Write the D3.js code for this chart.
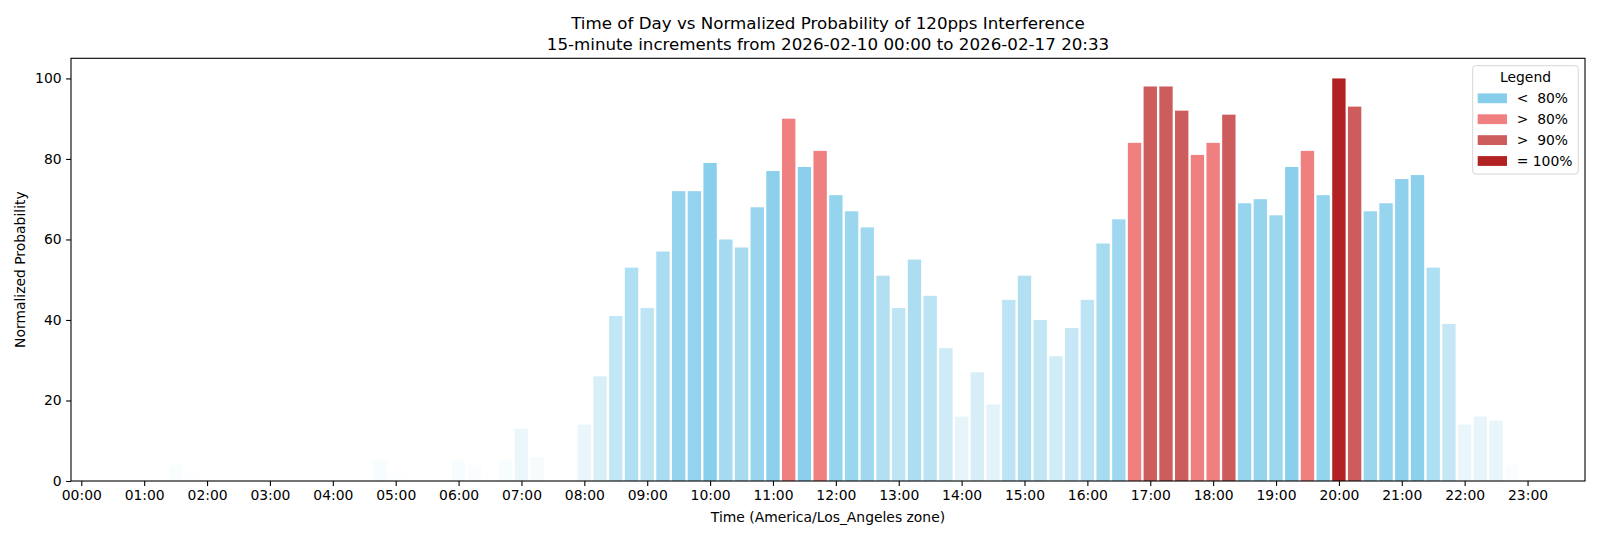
<!DOCTYPE html>
<html>
<head>
<meta charset="utf-8">
<script src="https://cdn.jsdelivr.net/npm/d3@7"></script>
<style>
  body { margin: 0; background: #fff; }
  svg text { font-family: "DejaVu Sans", sans-serif; fill: #000; }
</style>
</head>
<body>
<svg id="chart" width="1600" height="540"></svg>
<script>
// data: one value per 15-minute slot, 00:00 .. 23:45
const probability = [
  0, 0, 1, 1, 0, 0, 4, 2,
  0, 0, 0, 1, 0, 0, 1, 0,
  0, 1, 1, 5, 2, 1, 0, 0,
  5, 4, 1, 5, 13, 6, 0, 0,
  14, 26, 41, 53, 43, 57, 72, 72,
  79, 60, 58, 68, 77, 90, 78, 82,
  71, 67, 63, 51, 43, 55, 46, 33,
  16, 27, 19, 45, 51, 40, 31, 38,
  45, 59, 65, 84, 98, 98, 92, 81,
  84, 91, 69, 70, 66, 78, 82, 71,
  100, 93, 67, 69, 75, 76, 53, 39,
  14, 16, 15, 4, 0, 0, 0, 0
];
const hourLabels = [
  "00:00", "01:00", "02:00", "03:00", "04:00", "05:00", "06:00", "07:00",
  "08:00", "09:00", "10:00", "11:00", "12:00", "13:00", "14:00", "15:00",
  "16:00", "17:00", "18:00", "19:00", "20:00", "21:00", "22:00", "23:00"
];
const yTicks = [0, 20, 40, 60, 80, 100];
const legendLabels = ["<  80%", ">  80%", ">  90%", "= 100%"];
const legendColors = ["skyblue", "lightcoral", "indianred", "firebrick"];

const svg = d3.select("#chart");
const plotL = 71, plotR = 1585, plotT = 58.3, plotB = 481;

const x = d3.scaleLinear().domain([-0.655, 95.655]).range([plotL, plotR]);
const y = d3.scaleLinear().domain([0, 105]).range([plotB, plotT]);
const barW = 0.85;

function barColor(v) {
  if (v >= 100) return legendColors[3];
  if (v > 90) return legendColors[2];
  if (v > 80) return legendColors[1];
  return legendColors[0];
}
function barAlpha(v) {
  return v > 80 ? 1 : Math.min(1, v / 80);
}

// bars
svg.append("g").selectAll("rect")
  .data(probability)
  .join("rect")
  .attr("x", (d, i) => x(i - barW / 2))
  .attr("width", x(barW) - x(0))
  .attr("y", d => y(d))
  .attr("height", d => y(0) - y(d))
  .attr("fill", d => barColor(d))
  .attr("fill-opacity", d => barAlpha(d));

// axes
const xAxis = d3.axisBottom(x)
  .tickValues(hourLabels.map((h, i) => i * 4))
  .tickFormat((d, i) => hourLabels[i])
  .tickSize(4.9).tickPadding(4.5);
const gx = svg.append("g").attr("transform", `translate(0,${plotB})`).call(xAxis);
gx.select(".domain").remove();
gx.selectAll("line").attr("stroke", "#000").attr("stroke-width", 1.1);
gx.selectAll("text").attr("font-size", "13.9px").attr("fill", "#000");

const yAxis = d3.axisLeft(y).tickValues(yTicks).tickSize(4.9).tickPadding(4.5);
const gy = svg.append("g").attr("transform", `translate(${plotL},0)`).call(yAxis);
gy.select(".domain").remove();
gy.selectAll("line").attr("stroke", "#000").attr("stroke-width", 1.1);
gy.selectAll("text").attr("font-size", "13.9px").attr("fill", "#000");

// frame
svg.append("rect")
  .attr("x", plotL).attr("y", plotT)
  .attr("width", plotR - plotL).attr("height", plotB - plotT)
  .attr("fill", "none").attr("stroke", "#000").attr("stroke-width", 1.1);

// titles
const cx = (plotL + plotR) / 2;
svg.append("text").attr("x", cx).attr("y", 29).attr("text-anchor", "middle")
  .attr("font-size", "16.7px").text("Time of Day vs Normalized Probability of 120pps Interference");
svg.append("text").attr("x", cx).attr("y", 49.5).attr("text-anchor", "middle")
  .attr("font-size", "16.7px").text("15-minute increments from 2026-02-10 00:00 to 2026-02-17 20:33");

svg.append("text").attr("x", cx).attr("y", 522).attr("text-anchor", "middle")
  .attr("font-size", "13.9px").text("Time (America/Los_Angeles zone)");
svg.append("text")
  .attr("transform", `translate(25,${(plotT + plotB) / 2}) rotate(-90)`)
  .attr("text-anchor", "middle")
  .attr("font-size", "13.9px").text("Normalized Probability");

// legend
const lg = svg.append("g");
lg.append("rect")
  .attr("x", 1472.7).attr("y", 65.7).attr("width", 105.6).attr("height", 108.3)
  .attr("rx", 3).attr("fill", "#fff").attr("fill-opacity", 0.8)
  .attr("stroke", "#d6d6d6").attr("stroke-width", 1);
lg.append("text").attr("x", 1525.5).attr("y", 81.5).attr("text-anchor", "middle")
  .attr("font-size", "13.9px").text("Legend");
const rows = lg.selectAll("g.row").data(legendLabels).join("g")
  .attr("class", "row")
  .attr("transform", (d, i) => `translate(0,${98.3 + i * 20.9})`);
rows.append("rect").attr("x", 1477.7).attr("y", -4.9).attr("width", 29.3).attr("height", 9.8)
  .attr("fill", (d, i) => legendColors[i]);
rows.append("text").attr("x", 1516.7).attr("y", 5)
  .attr("font-size", "13.9px").style("white-space", "pre").text(d => d);
</script>
</body>
</html>
